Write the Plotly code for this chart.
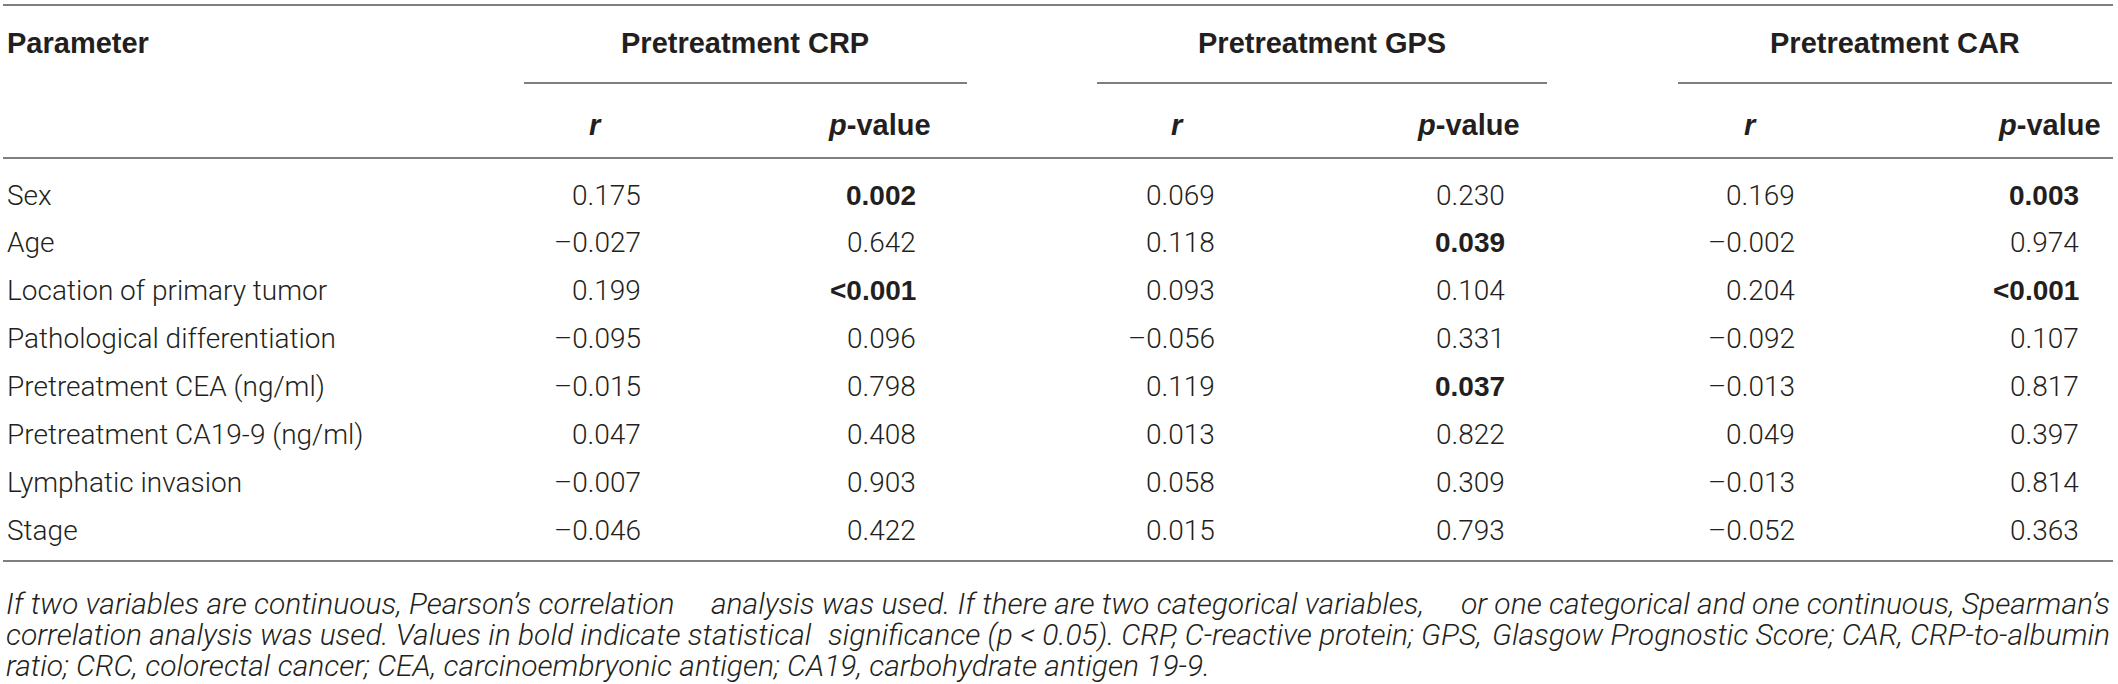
import plotly.graph_objects as go

# ---------------- data ----------------
parameters = [
    "Sex",
    "Age",
    "Location of primary tumor",
    "Pathological differentiation",
    "Pretreatment CEA (ng/ml)",
    "Pretreatment CA19-9 (ng/ml)",
    "Lymphatic invasion",
    "Stage",
]
groups = ["Pretreatment CRP", "Pretreatment GPS", "Pretreatment CAR"]
crp_r = [0.175, -0.027, 0.199, -0.095, -0.015, 0.047, -0.007, -0.046]
crp_p = ["0.002", "0.642", "<0.001", "0.096", "0.798", "0.408", "0.903", "0.422"]
gps_r = [0.069, 0.118, 0.093, -0.056, 0.119, 0.013, 0.058, 0.015]
gps_p = ["0.230", "0.039", "0.104", "0.331", "0.037", "0.822", "0.309", "0.793"]
car_r = [0.169, -0.002, 0.204, -0.092, -0.013, 0.049, -0.013, -0.052]
car_p = ["0.003", "0.974", "<0.001", "0.107", "0.817", "0.397", "0.814", "0.363"]

# footnote lines; justified lines are split into [left, middle, right] pieces
footnote_lines = [
    ["If two variables are continuous, Pearson\u2019s correlation",
     "analysis was used. If there are two categorical variables,",
     "or one categorical and one continuous, Spearman\u2019s"],
    ["correlation analysis was used. Values in bold indicate statistical",
     "significance (p < 0.05). CRP, C-reactive protein; GPS,",
     "Glasgow Prognostic Score; CAR, CRP-to-albumin"],
    ["ratio; CRC, colorectal cancer; CEA, carcinoembryonic antigen; CA19, carbohydrate antigen 19-9."],
]

# ---------------- layout constants ----------------
W, H = 2118, 684
TXT = "#231f20"
RULE = "#7f7f7f"
BODY = dict(family="Roboto, Liberation Sans, Arial, sans-serif", size=28, color=TXT, weight=300)
HEAD = dict(family="Liberation Sans, Arial, sans-serif", size=29, color=TXT)
BOLDV = dict(family="Liberation Sans, Arial, sans-serif", size=28, color=TXT)
NOTE = dict(family="Roboto, Liberation Sans, Arial, sans-serif", size=30, color=TXT, weight=300)

row_y0, row_dy = 195, 47.9
group_center = [745, 1322, 1895]
group_line = [(524, 967), (1097, 1547), (1678, 2112)]
r_head_x = [595, 1177, 1750]
p_head_x = [933, 1522, 2103]
r_right = [643, 1217, 1797]
p_right = [918, 1507, 2081]
note_left, note_right = 4, 2112
note_mid_x = [1067, 1155]
note_y0, note_dy = 603, 31


def fmt_r(v):
    return f"{v:.3f}".replace("-", "\u2013")


def is_sig(p):
    if p.startswith("<"):
        return True
    return float(p) < 0.05


def esc(s):
    return s.replace("<", "&lt;")


fig = go.Figure()
fig.add_trace(go.Scatter(x=[], y=[], mode="markers", showlegend=False, hoverinfo="skip"))

ann = []
shapes = []


def text(x, y, s, font, anchor="left"):
    ann.append(dict(x=x, y=y, xref="x", yref="y", text=s, showarrow=False,
                    xanchor=anchor, yanchor="middle", font=font, align=anchor))


def hline(x0, x1, y):
    shapes.append(dict(type="line", xref="x", yref="y", x0=x0, x1=x1, y0=y, y1=y,
                       line=dict(color=RULE, width=2)))


# rules
hline(3, 2113, 5)
hline(3, 2113, 158)
hline(3, 2113, 561)
for a, b in group_line:
    hline(a, b, 83)

# headers
text(5, 43, "<b>Parameter</b>", HEAD)
for g, cx in zip(groups, group_center):
    text(cx, 43, f"<b>{g}</b>", HEAD, "center")
for rx, px in zip(r_head_x, p_head_x):
    text(rx, 125, "<b><i>r</i></b>", HEAD, "center")
    text(px, 125, "<b><i>p</i>-value</b>", HEAD, "right")

# body rows
cols_r = [crp_r, gps_r, car_r]
cols_p = [crp_p, gps_p, car_p]
for i, name in enumerate(parameters):
    y = row_y0 + i * row_dy
    text(5, y, name, BODY)
    for k in range(3):
        text(r_right[k], y, fmt_r(cols_r[k][i]), BODY, "right")
        p = cols_p[k][i]
        if is_sig(p):
            text(p_right[k], y, f"<b>{esc(p)}</b>", BOLDV, "right")
        else:
            text(p_right[k], y, p, BODY, "right")

# footnote (justified lines approximated: left piece, centred middle piece, right piece)
for j, parts in enumerate(footnote_lines):
    y = note_y0 + j * note_dy
    text(note_left, y, f"<i>{esc(parts[0])}</i>", NOTE, "left")
    if len(parts) == 3:
        text(note_mid_x[j], y, f"<i>{esc(parts[1])}</i>", NOTE, "center")
        text(note_right, y, f"<i>{esc(parts[2])}</i>", NOTE, "right")

fig.update_layout(
    width=W, height=H,
    margin=dict(l=0, r=0, t=0, b=0),
    paper_bgcolor="white", plot_bgcolor="white",
    xaxis=dict(range=[0, W], visible=False, fixedrange=True),
    yaxis=dict(range=[H, 0], visible=False, fixedrange=True),
    annotations=ann, shapes=shapes, showlegend=False,
)

fig.write_html("out.html", config={"displayModeBar": False},
               post_script="document.body.style.margin='0';document.body.style.overflow='hidden';")
